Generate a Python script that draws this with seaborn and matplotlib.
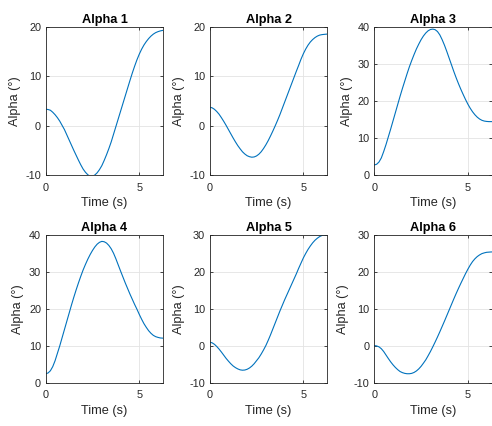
import numpy as np
import pandas as pd
import matplotlib
matplotlib.use("Agg")
import matplotlib.pyplot as plt
import seaborn as sns

# Sample times (s), every 0.125 s up to 2*pi
time_s = [0.0, 0.125, 0.25, 0.375, 0.5, 0.625, 0.75, 0.875, 1.0, 1.125, 1.25,
          1.375, 1.5, 1.625, 1.75, 1.875, 2.0, 2.125, 2.25, 2.375, 2.5, 2.625,
          2.75, 2.875, 3.0, 3.125, 3.25, 3.375, 3.5, 3.625, 3.75, 3.875, 4.0,
          4.125, 4.25, 4.375, 4.5, 4.625, 4.75, 4.875, 5.0, 5.125, 5.25, 5.375,
          5.5, 5.625, 5.75, 5.875, 6.0, 6.125, 6.25, 6.283]

alpha_1 = [3.3, 3.25, 3.1, 2.7, 2.2, 1.6, 0.9, 0.05, -0.8, -1.85, -2.9, -3.95,
           -5.0, -6.0, -7.0, -7.95, -8.8, -9.45, -9.95, -10.25, -10.25, -10.0,
           -9.55, -8.9, -8.1, -7.05, -5.9, -4.65, -3.3, -1.75, -0.2, 1.35, 2.9,
           4.45, 6.0, 7.55, 9.1, 10.6, 12.0, 13.3, 14.45, 15.45, 16.3, 17.0,
           17.6, 18.1, 18.5, 18.8, 19.0, 19.15, 19.25, 19.25]
alpha_2 = [3.7, 3.6, 3.3, 2.85, 2.3, 1.6, 0.85, 0.05, -0.8, -1.65, -2.5, -3.3,
           -4.05, -4.7, -5.3, -5.75, -6.1, -6.3, -6.4, -6.35, -6.15, -5.8, -5.3,
           -4.65, -3.9, -3.05, -2.1, -1.1, -0.05, 1.05, 2.2, 3.45, 4.7, 5.95,
           7.2, 8.45, 9.7, 10.95, 12.15, 13.4, 14.5, 15.45, 16.25, 16.9, 17.4,
           17.8, 18.1, 18.3, 18.4, 18.45, 18.5, 18.5]
alpha_3 = [2.7, 2.9, 3.5, 4.6, 6.3, 8.2, 10.3, 12.4, 14.6, 16.8, 19.0, 21.2,
           23.3, 25.3, 27.3, 29.2, 30.9, 32.5, 34.0, 35.3, 36.5, 37.5, 38.3,
           38.9, 39.25, 39.35, 39.2, 38.7, 37.8, 36.5, 35.0, 33.3, 31.5, 29.7,
           27.9, 26.2, 24.6, 23.1, 21.7, 20.35, 19.1, 18.0, 17.05, 16.25, 15.6,
           15.1, 14.75, 14.55, 14.45, 14.4, 14.4, 14.4]
alpha_4 = [2.5, 2.7, 3.3, 4.4, 6.0, 8.0, 10.0, 12.2, 14.4, 16.6, 18.8, 21.0,
           23.1, 25.1, 27.0, 28.8, 30.5, 32.0, 33.4, 34.65, 35.75, 36.7, 37.45,
           37.95, 38.2, 38.1, 37.75, 37.1, 36.2, 35.0, 33.5, 31.85, 30.2, 28.6,
           27.0, 25.5, 24.0, 22.6, 21.2, 19.9, 18.5, 17.2, 16.0, 15.0, 14.1,
           13.4, 12.85, 12.5, 12.3, 12.15, 12.1, 12.1]
alpha_5 = [1.0, 0.85, 0.45, -0.15, -0.85, -1.65, -2.5, -3.35, -4.1, -4.8, -5.4,
           -5.85, -6.2, -6.45, -6.55, -6.5, -6.3, -5.95, -5.45, -4.8, -4.0, -3.2,
           -2.2, -1.1, 0.1, 1.5, 3.0, 4.6, 6.2, 7.8, 9.4, 10.9, 12.4, 13.8, 15.2,
           16.6, 18.0, 19.4, 20.9, 22.3, 23.7, 24.9, 26.0, 26.95, 27.8, 28.5,
           29.05, 29.5, 29.8, 29.95, 30.05, 30.05]
alpha_6 = [0.1, 0.0, -0.25, -0.75, -1.5, -2.45, -3.4, -4.3, -5.1, -5.8, -6.4,
           -6.9, -7.2, -7.4, -7.5, -7.5, -7.4, -7.15, -6.75, -6.2, -5.5, -4.65,
           -3.75, -2.65, -1.5, -0.25, 1.05, 2.4, 3.8, 5.25, 6.7, 8.2, 9.7, 11.2,
           12.7, 14.15, 15.55, 16.9, 18.2, 19.5, 20.7, 21.8, 22.75, 23.5, 24.1,
           24.55, 24.9, 25.1, 25.25, 25.3, 25.35, 25.35]

titles = ["Alpha 1", "Alpha 2", "Alpha 3", "Alpha 4", "Alpha 5", "Alpha 6"]
series = [alpha_1, alpha_2, alpha_3, alpha_4, alpha_5, alpha_6]
y_limits = [(-10, 20), (-10, 20), (0, 40), (0, 40), (-10, 30), (-10, 30)]
y_ticks = [[-10, 0, 10, 20], [-10, 0, 10, 20], [0, 10, 20, 30, 40],
           [0, 10, 20, 30, 40], [-10, 0, 10, 20, 30], [-10, 0, 10, 20, 30]]
x_ticks = [0, 5]

sns.set_theme(style="whitegrid")
plt.rcParams["font.family"] = ["Liberation Sans", "DejaVu Sans"]
plt.rcParams["axes.unicode_minus"] = False

W, H = 492, 426
fig = plt.figure(figsize=(W / 100, H / 100), dpi=100)
fig.patch.set_facecolor("white")

lefts = [45.7, 209.7, 374.3]
bottoms = [175.0, 383.0]
aw, ah = 117.6, 148.3
box_color = "#262626"

for i, (vals, title) in enumerate(zip(series, titles)):
    r, c = divmod(i, 3)
    ax = fig.add_axes([lefts[c] / W, 1 - bottoms[r] / H, aw / W, ah / H])
    df = pd.DataFrame({"Time (s)": time_s, "Alpha": vals})
    sns.lineplot(data=df, x="Time (s)", y="Alpha", ax=ax, color="#0072BD",
                 linewidth=0.8)
    ax.set_xlim(0, 2 * np.pi)
    ax.set_ylim(*y_limits[i])
    ax.set_xticks(x_ticks)
    ax.set_yticks(y_ticks[i])
    ax.set_xlabel("Time (s)", fontsize=9.2, color=box_color, labelpad=3)
    ax.set_ylabel("Alpha (°)", fontsize=9.2, color=box_color, labelpad=3.5)
    ax.set_title(title, fontsize=9.2, fontweight="bold", color="black", pad=2.5)
    ax.set_facecolor("white")
    ax.grid(True, color="#e3e3e3", linewidth=0.6)
    for sp in ax.spines.values():
        sp.set_visible(True)
        sp.set_color(box_color)
        sp.set_linewidth(0.6)
    ax.tick_params(axis="both", which="both", direction="in", length=2.5,
                   width=0.6, color=box_color, labelsize=7.8,
                   labelcolor=box_color, top=True, right=True,
                   bottom=True, left=True)
    ax.tick_params(axis="x", pad=5.4)
    ax.tick_params(axis="y", pad=3.3)

fig.savefig("out.png", dpi=100, facecolor="white")
